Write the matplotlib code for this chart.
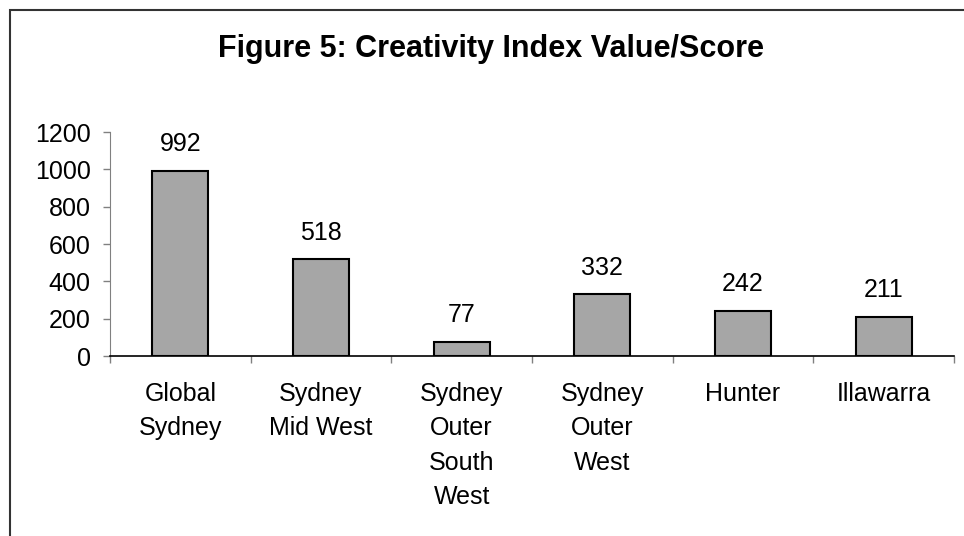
import matplotlib
matplotlib.use("Agg")
import matplotlib.pyplot as plt
from matplotlib.patches import Rectangle
import numpy as np

categories = ["Global\nSydney", "Sydney\nMid West", "Sydney\nOuter\nSouth\nWest",
              "Sydney\nOuter\nWest", "Hunter", "Illawarra"]
scores = [992, 518, 77, 332, 242, 211]
y_ticks = [0, 200, 400, 600, 800, 1000, 1200]

plt.rcParams['font.family'] = ['Liberation Sans', 'DejaVu Sans']

W, H = 964, 536
fig = plt.figure(figsize=(W / 100, H / 100), dpi=100)
ax = fig.add_axes([110 / W, 1 - 356 / H, (954 - 110) / W, (356 - 132) / H])

x = np.arange(len(scores))
ax.bar(x, scores, width=0.4, color="#A6A6A6", edgecolor="black", linewidth=1.5, zorder=3)

# value labels above bars
for xi, v in zip(x, scores):
    ax.annotate(str(v), (xi, v), xytext=(0, 14), textcoords="offset points",
                ha="center", va="baseline", fontsize=18)

ax.set_xlim(-0.5, len(scores) - 0.5)
ax.set_ylim(0, 1200)
ax.set_yticks(y_ticks)
ax.tick_params(axis="y", labelsize=18, length=5, width=1, color="#808080", pad=9)

# boundary ticks without labels, category labels on minor ticks
ax.set_xticks(np.arange(len(scores) + 1) - 0.5)
ax.set_xticklabels([])
ax.set_xticks(x, minor=True)
ax.set_xticklabels(categories, minor=True, fontsize=18, linespacing=1.53)
ax.tick_params(axis="x", which="major", length=5, width=1, color="#808080")
ax.tick_params(axis="x", which="minor", length=0, pad=19)

for s in ["top", "right"]:
    ax.spines[s].set_visible(False)
ax.spines["left"].set_color("#808080")
ax.spines["bottom"].set_color("black")
ax.spines["bottom"].set_linewidth(1.2)

fig.text(491 / W, 1 - 57 / H, "Figure 5: Creativity Index Value/Score",
         ha="center", va="baseline", fontsize=22, fontweight="bold")

# frame around the chart area
fig.patches.append(Rectangle((10 / W, -0.1), 1.2, 1 - 10 / H + 0.1, transform=fig.transFigure,
                             fill=False, edgecolor="#333333", linewidth=1.5))

fig.savefig("out.png", dpi=100)
